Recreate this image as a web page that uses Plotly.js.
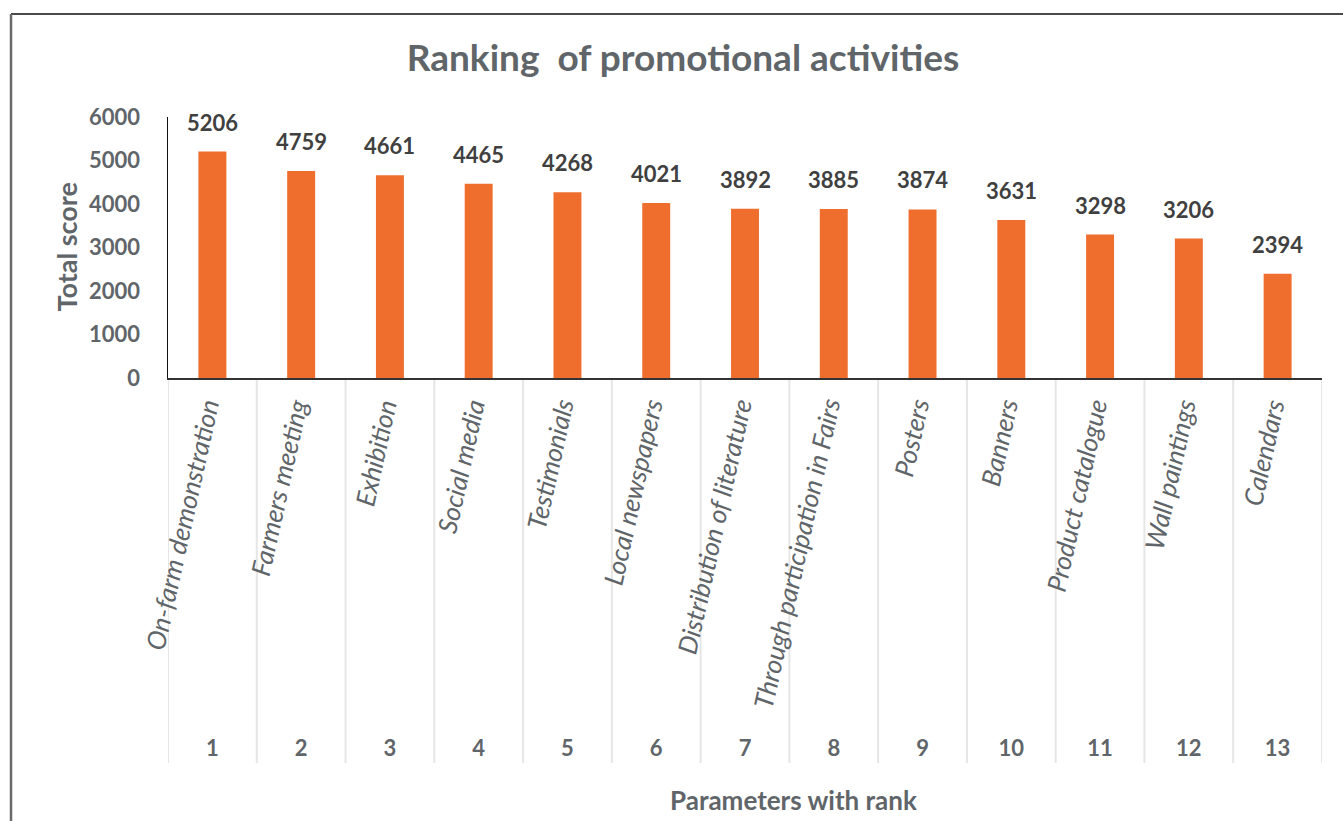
<!DOCTYPE html>
<html>
<head>
<meta charset="utf-8">
<script src="https://cdn.plot.ly/plotly-3.0.1.min.js"></script>
<style>
html,body{margin:0;padding:0;background:#fff;}
#chart{width:1343px;height:821px;}
</style>
</head>
<body>
<div id="chart"></div>
<script>
// ---- data ----
var activities = ["On-farm demonstration","Farmers meeting","Exhibition","Social media","Testimonials","Local newspapers","Distribution of literature","Through participation in Fairs","Posters","Banners","Product catalogue","Wall paintings","Calendars"];
var ranks = ["1","2","3","4","5","6","7","8","9","10","11","12","13"];
var totalScores = [5206,4759,4661,4465,4268,4021,3892,3885,3874,3631,3298,3206,2394];
var yTicks = [0,1000,2000,3000,4000,5000,6000];

// ---- layout constants ----
var W = 1343, H = 821;
var mL = 168, mR = 21, mT = 117, mB = 443;
var plotW = W - mL - mR, plotH = H - mT - mB;
function px2paperX(px){ return (px - mL) / plotW; }
function px2paperY(py){ return (H - mB - py) / plotH; }

var grey = '#5f6569';
var dark = '#404040';
var FONT = 'Lato, "Open Sans", sans-serif';

var trace = {
  type: 'bar',
  x: activities,
  y: totalScores,
  marker: {color: '#ef6e2e'},
  width: 0.315,
  hoverinfo: 'x+y'
};

var shapes = [];
// category separators (multi-level axis dividers)
for (var i = 0; i <= activities.length; i++) {
  shapes.push({type:'line', xref:'x', yref:'paper', x0:i-0.5, x1:i-0.5,
    y0:0, y1:px2paperY(763), line:{color:'#e6e6e6', width:2}, layer:'below'});
}
// outer frame (top and left edges)
shapes.push({type:'line', xref:'paper', yref:'paper', x0:px2paperX(11), x1:px2paperX(1350),
  y0:px2paperY(14), y1:px2paperY(14), line:{color:'#4a4a4a', width:2}});
shapes.push({type:'line', xref:'paper', yref:'paper', x0:px2paperX(11), x1:px2paperX(11),
  y0:px2paperY(14), y1:px2paperY(830), line:{color:'#6a6a6a', width:2.5}});

// data labels above bars
var annotations = activities.map(function(name, i){
  return {x:name, xref:'x', y:totalScores[i], yref:'y', text:String(totalScores[i]),
    showarrow:false, xanchor:'center', yanchor:'bottom', yshift:14,
    font:{family:FONT, size:22, color:dark, weight:'bold'}};
});
// rotated category names (outer level of the axis)
activities.forEach(function(name){
  annotations.push({x:name, xref:'x', y:px2paperY(394), yref:'paper', text:name, showarrow:false,
    textangle:-77.5, xanchor:'right', yanchor:'top', xshift:15,
    font:{family:FONT, size:26, color:grey, style:'italic'}});
});
annotations.push({x:px2paperX(793), xref:'paper', y:px2paperY(800), yref:'paper',
  text:'Parameters with rank', showarrow:false, xanchor:'center', yanchor:'middle',
  font:{family:FONT, size:26, color:grey, weight:'bold'}});
annotations.push({x:px2paperX(66), xref:'paper', y:0.5, yref:'paper',
  text:'Total score', showarrow:false, textangle:-90, xanchor:'center', yanchor:'middle',
  font:{family:FONT, size:27, color:grey, weight:'bold'}});

var layout = {
  width: W, height: H,
  margin: {l:mL, r:mR, t:mT, b:mB, pad:0},
  paper_bgcolor:'#fff', plot_bgcolor:'#fff',
  showlegend:false,
  title: {text:'Ranking  of promotional activities', x:683/W, xref:'container', xanchor:'center',
    y:1-(58/H), yref:'container', yanchor:'middle',
    font:{family:FONT, size:37, color:grey, weight:'bold'}},
  xaxis: {
    type:'category',
    tickmode:'array', tickvals:activities, ticktext:ranks,
    ticks:'', showgrid:false, zeroline:false,
    showline:true, linecolor:'#333', linewidth:1.5,
    ticklabelstandoff:350,
    tickfont:{family:FONT, size:22, color:grey, weight:'bold'},
    range:[-0.5, activities.length-0.5]
  },
  yaxis: {
    range:[0,6000], tickvals:yTicks, ticktext:yTicks.map(String),
    showgrid:false, zeroline:false,
    showline:true, linecolor:'#111', linewidth:1.5,
    ticks:'outside', ticklen:22, tickcolor:'rgba(0,0,0,0)',
    tickfont:{family:FONT, size:22, color:grey, weight:'bold'}
  },
  shapes: shapes,
  annotations: annotations
};

Plotly.newPlot('chart', [trace], layout, {displayModeBar:false, staticPlot:true});
</script>
</body>
</html>
